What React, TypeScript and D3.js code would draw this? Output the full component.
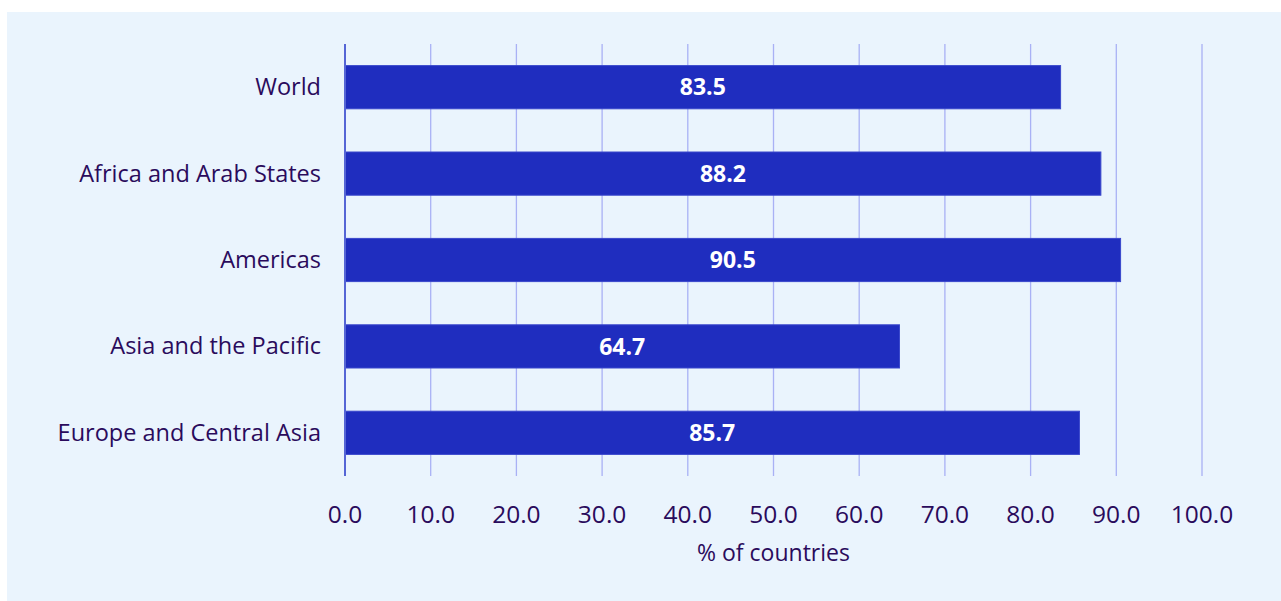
import React from "react";
import * as d3 from "d3";

const categories = ["World", "Africa and Arab States", "Americas", "Asia and the Pacific", "Europe and Central Asia"];
const values = [83.5, 88.2, 90.5, 64.7, 85.7];
const tickValues = [0, 10, 20, 30, 40, 50, 60, 70, 80, 90, 100];
const axisTitle = "% of countries";

const W = 1281;
const H = 601;
const FONT = "'Open Sans', sans-serif";
const TEXT = "#2a0b5c";

export default function App() {
  const x = d3.scaleLinear().domain([0, 100]).range([345, 1202]);
  const y = d3.scaleBand<string>().domain(categories).range([44, 476]).paddingInner(0.5).paddingOuter(0.25);
  return (
    <svg width={W} height={H} style={{ position: "absolute", left: 0, top: 0 }}>
      <rect x={0} y={0} width={W} height={H} fill="#ffffff" />
      <rect x={7} y={12} width={W - 7} height={H - 12} fill="#eaf4fd" />
      {tickValues.slice(1).map((t) => (
        <line key={t} x1={x(t)} x2={x(t)} y1={44} y2={476} stroke="#a9b1f5" strokeWidth={1.3} />
      ))}
      {categories.map((c, i) => (
        <g key={c}>
          <rect x={x(0)} y={y(c)!} width={x(values[i]) - x(0)} height={y.bandwidth()} fill="#1f2dbf" stroke="#3a48cc" strokeWidth={1} />
          <text x={(x(0) + x(values[i])) / 2} y={y(c)! + y.bandwidth() / 2} dy="0.36em" textAnchor="middle" fill="#ffffff" fontFamily={FONT} fontWeight="bold" fontSize={23}>
            {values[i].toFixed(1)}
          </text>
          <text x={321} y={y(c)! + y.bandwidth() / 2} dy="0.34em" textAnchor="end" fill={TEXT} fontFamily={FONT} fontSize={23.5}>
            {c}
          </text>
        </g>
      ))}
      <line x1={x(0)} x2={x(0)} y1={44} y2={476} stroke="#5565d5" strokeWidth={2} />
      {tickValues.map((t) => (
        <text key={t} x={x(t)} y={515} dy="0.34em" textAnchor="middle" fill={TEXT} fontFamily={FONT} fontSize={24.5}>
          {t.toFixed(1)}
        </text>
      ))}
      <text x={(x(0) + x(100)) / 2} y={553} dy="0.34em" textAnchor="middle" fill={TEXT} fontFamily={FONT} fontSize={23}>
        {axisTitle}
      </text>
    </svg>
  );
}
